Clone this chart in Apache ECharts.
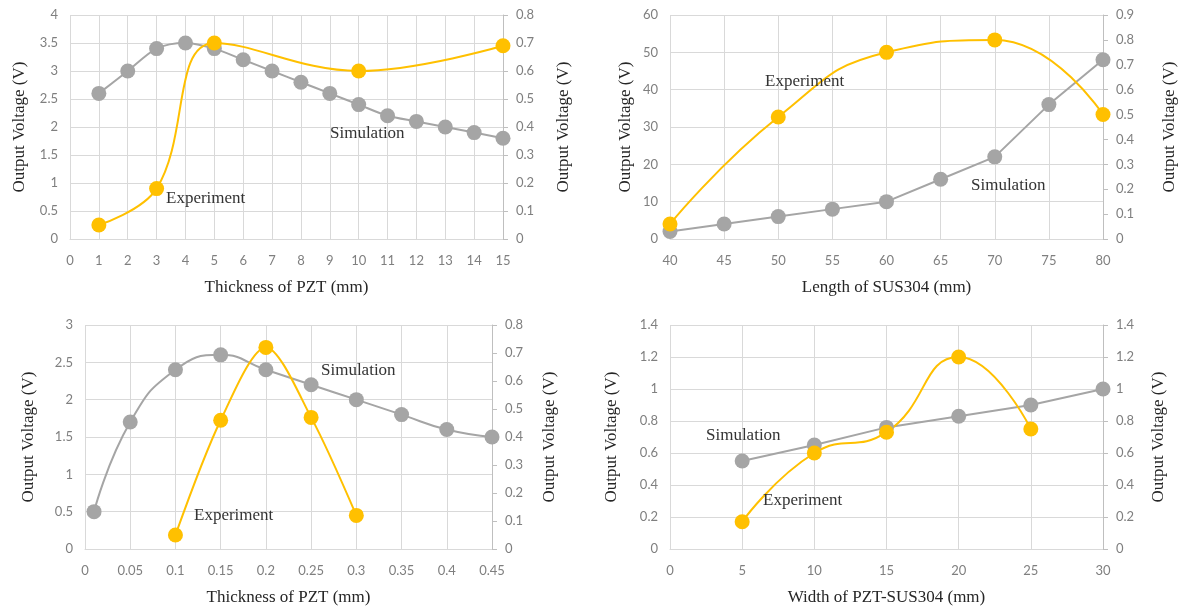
<!DOCTYPE html>
<html>
<head>
<meta charset="utf-8">
<script src="https://cdn.jsdelivr.net/npm/echarts@6/dist/echarts.min.js"></script>
<style>
  html, body { margin: 0; padding: 0; background: #fff; }
  #chart { width: 1184px; height: 608px; }
</style>
</head>
<body>
<div id="chart"></div>
<script>
// panel 1: thickness of PZT (mm)
const thickX = [1, 2, 3, 4, 5, 6, 7, 8, 9, 10, 11, 12, 13, 14, 15]
const thickSim = [2.6, 3.0, 3.4, 3.5, 3.4, 3.2, 3.0, 2.8, 2.6, 2.4, 2.2, 2.1, 2.0, 1.9, 1.8]
const thickExpX = [1, 3, 5, 10, 15]
const thickExp = [0.05, 0.18, 0.70, 0.60, 0.69]

// panel 2: length of SUS304 (mm)
const lenX = [40, 45, 50, 55, 60, 65, 70, 75, 80]
const lenSim = [2, 4, 6, 8, 10, 16, 22, 36, 48]
const lenExpX = [40, 50, 60, 70, 80]
const lenExp = [0.06, 0.49, 0.75, 0.80, 0.50]

// panel 3: thin PZT thickness (mm)
const thinX = [0.01, 0.05, 0.1, 0.15, 0.2, 0.25, 0.3, 0.35, 0.4, 0.45]
const thinSim = [0.5, 1.7, 2.4, 2.6, 2.4, 2.2, 2.0, 1.8, 1.6, 1.5]
const thinExpX = [0.1, 0.15, 0.2, 0.25, 0.3]
const thinExp = [0.05, 0.46, 0.72, 0.47, 0.12]

// panel 4: width of PZT-SUS304 (mm)
const widX = [5, 10, 15, 20, 25, 30]
const widSim = [0.55, 0.65, 0.76, 0.83, 0.90, 1.0]
const widExpX = [5, 10, 15, 20, 25]
const widExp = [0.17, 0.60, 0.73, 1.20, 0.75]

const simColor = '#a5a5a5'
const expColor = '#ffc000'
const gridColor = '#d9d9d9'
const serif = '"Liberation Serif", "Times New Roman", serif'
const sans = 'Lato, "Open Sans", sans-serif'

const pairs = (xs, ys) => xs.map((x, i) => [x, ys[i]])

const xAxisFor = (gridIndex, name, min, max, interval) => ({
  type: 'value',
  gridIndex,
  min,
  max,
  interval,
  name,
  nameLocation: 'middle',
  nameGap: 40,
  nameTextStyle: { fontFamily: serif, fontSize: 17, color: '#262626' },
  axisLine: { show: true, lineStyle: { color: gridColor, width: 1 } },
  axisTick: { show: false },
  axisLabel: { fontFamily: sans, fontSize: 13, color: '#7f7f7f', margin: 15 },
  splitLine: { show: true, lineStyle: { color: gridColor, width: 1 } }
})

const yAxisFor = (gridIndex, side, min, max, interval, gap, showSplit) => ({
  type: 'value',
  gridIndex,
  position: side,
  min,
  max,
  interval,
  name: 'Output Voltage (V)',
  nameLocation: 'middle',
  nameRotate: 90,
  nameGap: gap,
  nameTextStyle: { fontFamily: serif, fontSize: 17, color: '#262626' },
  axisLine: { show: side === 'right', lineStyle: { color: '#bfbfbf', width: 1 } },
  axisTick: { show: side === 'right', length: 5, lineStyle: { color: '#bfbfbf' } },
  axisLabel: { fontFamily: sans, fontSize: 13, color: '#7f7f7f', margin: side === 'right' ? 13 : 12 },
  splitLine: { show: showSplit, lineStyle: { color: gridColor, width: 1 } }
})

const lineSeries = (name, xIdx, yIdx, data, color, smooth) => ({
  name,
  type: 'line',
  xAxisIndex: xIdx,
  yAxisIndex: yIdx,
  data,
  smooth,
  symbol: 'circle',
  symbolSize: 15,
  lineStyle: { color, width: 2 },
  itemStyle: { color },
  animation: false
})

const note = (text, left, top) => ({
  type: 'text',
  left,
  top,
  z: 100,
  style: { text, font: '17px ' + serif, fill: '#333' }
})

const chart = echarts.init(document.getElementById('chart'))

chart.setOption({
  backgroundColor: '#fff',
  animation: false,
  grid: [
    { left: 70, right: 681, top: 15, height: 224 },
    { left: 670, right: 81, top: 15, height: 224 },
    { left: 85, right: 692, top: 325, height: 224 },
    { left: 670, right: 81, top: 325, height: 224 }
  ],
  xAxis: [
    xAxisFor(0, 'Thickness of PZT (mm)', 0, 15, 1),
    xAxisFor(1, 'Length of SUS304 (mm)', 40, 80, 5),
    xAxisFor(2, 'Thickness of PZT (mm)', 0, 0.45, 0.05),
    xAxisFor(3, 'Width of PZT-SUS304 (mm)', 0, 30, 5)
  ],
  yAxis: [
    yAxisFor(0, 'left', 0, 4, 0.5, 42, true),
    yAxisFor(0, 'right', 0, 0.8, 0.1, 52, false),
    yAxisFor(1, 'left', 0, 60, 10, 36, true),
    yAxisFor(1, 'right', 0, 0.9, 0.1, 58, false),
    yAxisFor(2, 'left', 0, 3, 0.5, 48, true),
    yAxisFor(2, 'right', 0, 0.8, 0.1, 49, false),
    yAxisFor(3, 'left', 0, 1.4, 0.2, 50, true),
    yAxisFor(3, 'right', 0, 1.4, 0.2, 47, false)
  ],
  series: [
    lineSeries('Simulation', 0, 0, pairs(thickX, thickSim), simColor, 0.3),
    lineSeries('Experiment', 0, 1, pairs(thickExpX, thickExp), expColor, 0.4),
    lineSeries('Simulation', 1, 2, pairs(lenX, lenSim), simColor, false),
    lineSeries('Experiment', 1, 3, pairs(lenExpX, lenExp), expColor, 0.5),
    lineSeries('Simulation', 2, 4, pairs(thinX, thinSim), simColor, 0.5),
    lineSeries('Experiment', 2, 5, pairs(thinExpX, thinExp), expColor, 0.3),
    lineSeries('Simulation', 3, 6, pairs(widX, widSim), simColor, false),
    lineSeries('Experiment', 3, 7, pairs(widExpX, widExp), expColor, 0.5)
  ],
  graphic: [
    note('Experiment', 166, 190),
    note('Simulation', 330, 125),
    note('Experiment', 765, 73),
    note('Simulation', 971, 177),
    note('Experiment', 194, 507),
    note('Simulation', 321, 362),
    note('Simulation', 706, 427),
    note('Experiment', 763, 492)
  ]
})
</script>
</body>
</html>
